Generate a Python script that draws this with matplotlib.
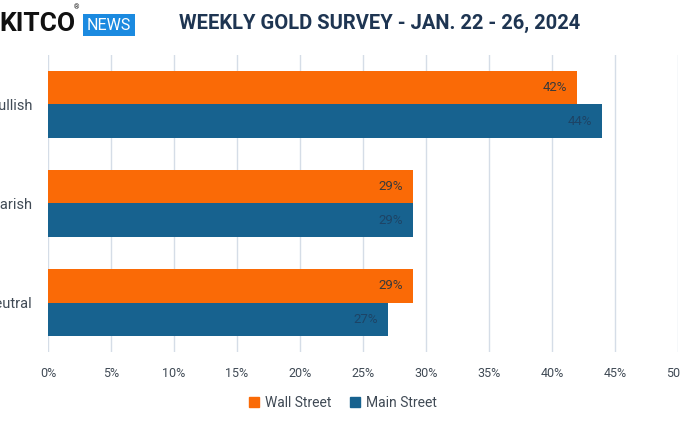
import matplotlib.pyplot as plt
import matplotlib.patches as mpatches
import numpy as np

plt.rcParams['font.family'] = ['Roboto', 'DejaVu Sans']

# Survey data
categories = ['Bullish', 'Bearish', 'Neutral']
wall_street = [0.42, 0.29, 0.29]
main_street = [0.44, 0.29, 0.27]
xticks = [0, 0.05, 0.10, 0.15, 0.20, 0.25, 0.30, 0.35, 0.40, 0.45, 0.50]

orange = '#fa6a06'
blue = '#17628f'
grid_c = '#d5dde7'
text_c = '#404a55'

W, H = 680, 423
fig = plt.figure(figsize=(W / 100, H / 100), dpi=100)
fig.patch.set_facecolor('white')

# axes placed in pixel terms: 0% at x=48, 50% at x=678, top 55, bottom 352
ax = fig.add_axes([48 / W, 1 - 352 / H, (678 - 48) / W, (352 - 55) / H])

y = np.arange(len(categories))
h = 0.335
bw = ax.barh(y - h / 2, wall_street, height=h, color=orange, zorder=3)
bm = ax.barh(y + h / 2, main_street, height=h, color=blue, zorder=3)

for bar, v in zip(bw, wall_street):
    ax.text(v - 0.008, bar.get_y() + bar.get_height() / 2, f'{v:.0%}',
            ha='right', va='center', fontsize=9.5, color='#3a3a3a', zorder=4)
for bar, v in zip(bm, main_street):
    ax.text(v - 0.008, bar.get_y() + bar.get_height() / 2, f'{v:.0%}',
            ha='right', va='center', fontsize=9.5, color='#1d4466', zorder=4)

ax.set_xlim(0, 0.5)
ax.set_ylim(2.5, -0.5)
ax.set_xticks(xticks)
ax.set_xticklabels([f'{t:.0%}' for t in xticks], fontsize=9, color=text_c)
ax.set_yticks(y)
ax.set_yticklabels(categories, fontsize=10.5, color=text_c)
ax.tick_params(axis='x', length=0, pad=11)
ax.tick_params(axis='y', length=0, pad=11)
ax.grid(axis='x', color=grid_c, linewidth=1, zorder=0)
for s in ax.spines.values():
    s.set_visible(False)

# legend
handles = [mpatches.Patch(color=orange, label='Wall Street'),
           mpatches.Patch(color=blue, label='Main Street')]
fig.legend(handles=handles, loc='center', bbox_to_anchor=(343 / W, 1 - 403 / H),
           ncol=2, frameon=False, fontsize=10, handlelength=0.7, handleheight=0.7,
           handletextpad=0.4, columnspacing=1.4, labelcolor=text_c)

# header: logo + title
fig.text(-1 / W, 1 - 24 / H, 'KITCO', fontsize=19, fontweight='bold', color='#111111',
         ha='left', va='center')
fig.text(77 / W, 1 - 8 / H, '®', fontsize=5, color='#111111', ha='center', va='center')
fig.text(109 / W, 1 - 25 / H, 'NEWS', fontsize=11.5, color='white', ha='center', va='center',
         bbox=dict(boxstyle='square,pad=0.25', facecolor='#1b8ae0', edgecolor='none'))
fig.text(380 / W, 1 - 23 / H, 'WEEKLY GOLD SURVEY - JAN. 22 - 26, 2024', fontsize=14.5,
         fontweight='bold', color='#1e3552', ha='center', va='center')

plt.savefig('out.png', dpi=100)
